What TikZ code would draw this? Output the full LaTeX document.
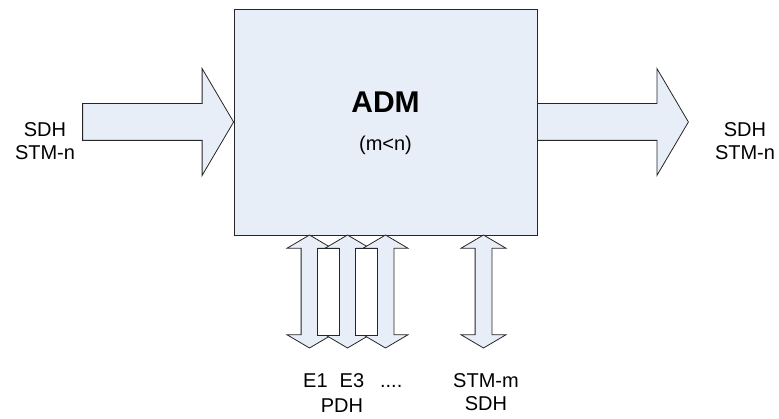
\documentclass[tikz,border=0pt]{standalone}
\usepackage{fontspec}
\setmainfont{Liberation Sans}
\usetikzlibrary{positioning, shapes.arrows}
\definecolor{admfill}{RGB}{232,238,247}

\begin{document}
\begin{tikzpicture}
    [
        x=1pt, y=-1pt,
        every node/.style={font=\fontsize{20}{23}\selectfont},
        box_node/.style={draw=black!85, fill=admfill, line width=0.8pt, minimum width=303pt, minimum height=226pt, inner sep=0pt},
        line_arrow/.style={single arrow, draw=black!85, fill=admfill, line width=0.8pt, outer sep=0pt, inner xsep=0pt, inner ysep=18pt, minimum width=0pt, minimum height=151pt, single arrow head extend=35pt, single arrow tip angle=119},
        trib_arrow/.style={double arrow, rotate=90, draw=black!85, fill=admfill, line width=0.8pt, outer sep=0pt, inner xsep=0pt, inner ysep=8pt, minimum width=0pt, minimum height=113pt, double arrow head extend=14pt, double arrow tip angle=119},
        gap_box/.style={draw=black!85, fill=white, line width=0.8pt},
        port_label/.style={align=center, inner sep=0pt, anchor=north},
    ]
        \useasboundingbox (0,0) rectangle (779,419);

        % the multiplexer
        \node[box_node] (adm) at (385.5,122) {};
        \node[anchor=base, font=\fontsize{30}{36}\selectfont\bfseries] (title) at (385.5,113) {ADM};
        \node[anchor=base] (ratio) at (385.5,151) {(m<n)};

        % line side
        \node[line_arrow, anchor=tip] (west_in) at (adm.west) {};
        \node[line_arrow, anchor=tail] (east_out) at (adm.east) {};
        \node[port_label] (west_lbl) at (45,122) {SDH\\STM-n};
        \node[port_label] (east_lbl) at (745,122) {SDH\\STM-n};

        % tributaries
        \node[trib_arrow] (e1) at (309.5,291.5) {};
        \node[trib_arrow] (e3) at (347.5,291.5) {};
        \node[trib_arrow] (en) at (385.5,291.5) {};
        \fill[gap_box] (317.5,248) rectangle (339.5,335);
        \fill[gap_box] (355.5,248) rectangle (377.5,335);
        \node[trib_arrow] (stm) at (483.5,291.5) {};

        \node[anchor=base west, inner sep=0pt] (pdh_types) at (303,388) {E1\hspace{12pt}E3\hspace{16pt}....};
        \node[anchor=base, inner sep=0pt] (pdh_lbl) at (342,412) {PDH};
        \node[port_label] (stm_lbl) at (486,373) {STM-m\\SDH};
    \end{tikzpicture}
\end{document}
